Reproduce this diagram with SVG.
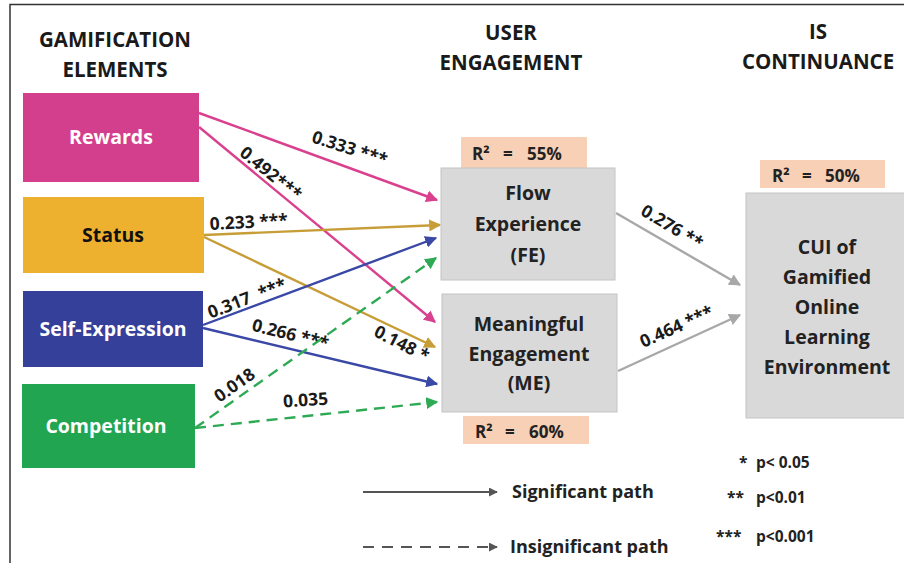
<svg xmlns="http://www.w3.org/2000/svg" width="904" height="563" viewBox="0 0 904 563">
<style>
.hdr{font-family:"Open Sans","Liberation Sans",sans-serif;font-weight:700;font-size:20.5px;fill:#1a1a1a;text-anchor:middle}
.src{font-family:"Open Sans","Liberation Sans",sans-serif;font-weight:700;font-size:19.5px;text-anchor:middle}
.mid{font-family:"Open Sans","Liberation Sans",sans-serif;font-weight:700;font-size:19.5px;fill:#222;text-anchor:middle}
.r2{font-family:"Open Sans","Liberation Sans",sans-serif;font-weight:700;font-size:17px;fill:#222}
.lbl{font-family:"Open Sans","Liberation Sans",sans-serif;font-weight:700;font-size:17.5px;fill:#1a1a1a;text-anchor:middle}
.leg{font-family:"Open Sans","Liberation Sans",sans-serif;font-weight:700;font-size:18px;fill:#222}
.p{font-family:"Open Sans","Liberation Sans",sans-serif;font-weight:700;font-size:15.5px;fill:#222}
.gbox{fill:#d9d9d9;stroke:#c4c4c4;stroke-width:1}
.peach{fill:#f7d0b6}
.c{fill:none;stroke-width:2.4}
</style>
<defs>
<marker id="mp" viewBox="0 0 10 10" refX="9" refY="5" markerWidth="5" markerHeight="5" orient="auto" markerUnits="strokeWidth"><path d="M0,0 L10,5 L0,10 z" fill="#d9418f"/></marker>
<marker id="my" viewBox="0 0 10 10" refX="9" refY="5" markerWidth="5" markerHeight="5" orient="auto" markerUnits="strokeWidth"><path d="M0,0 L10,5 L0,10 z" fill="#c79d38"/></marker>
<marker id="mb" viewBox="0 0 10 10" refX="9" refY="5" markerWidth="5" markerHeight="5" orient="auto" markerUnits="strokeWidth"><path d="M0,0 L10,5 L0,10 z" fill="#3a48a6"/></marker>
<marker id="mg" viewBox="0 0 10 10" refX="9" refY="5" markerWidth="5" markerHeight="5" orient="auto" markerUnits="strokeWidth"><path d="M0,0 L10,5 L0,10 z" fill="#2eaa55"/></marker>
<marker id="ma" viewBox="0 0 10 10" refX="9" refY="5" markerWidth="5" markerHeight="5" orient="auto" markerUnits="strokeWidth"><path d="M0,0 L10,5 L0,10 z" fill="#a8a8a8"/></marker>
<marker id="md" viewBox="0 0 10 10" refX="9" refY="5" markerWidth="4.5" markerHeight="4.5" orient="auto" markerUnits="strokeWidth"><path d="M0,0 L10,5 L0,10 z" fill="#555"/></marker>
</defs>
<rect width="904" height="563" fill="#ffffff"/>
<path d="M10,563 L10,4.5 L904,4.5" fill="none" stroke="#333" stroke-width="1.5"/>

<g id="headers">
<text class="hdr" x="115" y="47">GAMIFICATION</text>
<text class="hdr" x="115" y="77">ELEMENTS</text>
<text class="hdr" x="511" y="40">USER</text>
<text class="hdr" x="511" y="70">ENGAGEMENT</text>
<text class="hdr" x="818" y="39">IS</text>
<text class="hdr" x="818" y="69">CONTINUANCE</text>
</g>

<g id="connectors">
<line class="c" x1="199" y1="113" x2="437" y2="200" stroke="#d9418f" marker-end="url(#mp)"/>
<line class="c" x1="199" y1="127" x2="435" y2="322" stroke="#d9418f" marker-end="url(#mp)"/>
<line class="c" x1="204" y1="235" x2="440" y2="225" stroke="#c79d38" marker-end="url(#my)"/>
<line class="c" x1="204" y1="237" x2="435" y2="347" stroke="#c79d38" marker-end="url(#my)"/>
<line class="c" x1="203" y1="325" x2="436" y2="238" stroke="#3a48a6" marker-end="url(#mb)"/>
<line class="c" x1="203" y1="328" x2="437" y2="384" stroke="#3a48a6" marker-end="url(#mb)"/>
<line class="c" x1="195" y1="428" x2="436" y2="258" stroke="#2eaa55" stroke-dasharray="11,7" marker-end="url(#mg)"/>
<line class="c" x1="195" y1="428" x2="437" y2="402" stroke="#2eaa55" stroke-dasharray="11,7" marker-end="url(#mg)"/>
<line class="c" x1="616" y1="213" x2="740" y2="285" stroke="#a8a8a8" marker-end="url(#ma)"/>
<line class="c" x1="618" y1="371" x2="740" y2="315" stroke="#a8a8a8" marker-end="url(#ma)"/>
</g>

<g id="edge-labels">
<text class="lbl" transform="translate(348,154) rotate(18)">0.333 ***</text>
<text class="lbl" transform="translate(267,178) rotate(39)">0.492***</text>
<text class="lbl" transform="translate(249,228) rotate(-3)">0.233 ***</text>
<text class="lbl" transform="translate(249,304) rotate(-21)">0.317 &#160;***</text>
<text class="lbl" transform="translate(289,340) rotate(14)">0.266 ***</text>
<text class="lbl" transform="translate(399,349) rotate(27)">0.148 *</text>
<text class="lbl" transform="translate(238,390) rotate(-35)">0.018</text>
<text class="lbl" transform="translate(306,406) rotate(-4)">0.035</text>
<text class="lbl" transform="translate(669,232) rotate(31)">0.276 **</text>
<text class="lbl" transform="translate(679,332) rotate(-24)">0.464 ***</text>
</g>

<g id="rewards">
<rect x="23" y="93" width="176" height="89" fill="#d43f8d"/>
<text class="src" x="111" y="144" fill="#ffffff">Rewards</text>
</g>
<g id="status">
<rect x="23" y="197" width="181" height="76" fill="#edb12f"/>
<text class="src" x="113" y="242" fill="#111">Status</text>
</g>
<g id="self-expression">
<rect x="23" y="291" width="180" height="76" fill="#35409a"/>
<text class="src" x="113" y="336" fill="#ffffff">Self-Expression</text>
</g>
<g id="competition">
<rect x="22" y="384" width="173" height="84" fill="#21a550"/>
<text class="src" x="106" y="433" fill="#ffffff">Competition</text>
</g>

<g id="flow-experience">
<rect class="peach" x="461" y="137" width="126" height="31"/>
<text class="r2" y="160"><tspan x="472">R²</tspan><tspan x="503">=</tspan><tspan x="527">55%</tspan></text>
<rect class="gbox" x="441" y="168" width="174" height="112"/>
<text class="mid" x="528" y="200">Flow</text>
<text class="mid" x="528" y="231">Experience</text>
<text class="mid" x="528" y="262">(FE)</text>
</g>

<g id="meaningful-engagement">
<rect class="gbox" x="442" y="294" width="175" height="118"/>
<text class="mid" x="529" y="331">Meaningful</text>
<text class="mid" x="529" y="361">Engagement</text>
<text class="mid" x="529" y="390">(ME)</text>
<rect class="peach" x="463" y="416" width="126" height="28"/>
<text class="r2" y="438"><tspan x="475">R²</tspan><tspan x="505">=</tspan><tspan x="529">60%</tspan></text>
</g>

<g id="cui">
<rect class="peach" x="760" y="160" width="125" height="28"/>
<text class="r2" y="182"><tspan x="772">R²</tspan><tspan x="802">=</tspan><tspan x="825">50%</tspan></text>
<rect class="gbox" x="746" y="193" width="170" height="225"/>
<text class="mid" x="827" y="254">CUI of</text>
<text class="mid" x="827" y="284">Gamified</text>
<text class="mid" x="827" y="314">Online</text>
<text class="mid" x="827" y="344">Learning</text>
<text class="mid" x="827" y="374">Environment</text>
</g>

<g id="legend">
<line x1="363" y1="492" x2="497" y2="492" stroke="#555" stroke-width="2" marker-end="url(#md)"/>
<text class="leg" x="512" y="498">Significant path</text>
<line x1="363" y1="547" x2="497" y2="547" stroke="#555" stroke-width="2" stroke-dasharray="11,8" marker-end="url(#md)"/>
<text class="leg" x="510" y="553">Insignificant path</text>
<text class="p" x="739" y="468">*</text>
<text class="p" x="756" y="468">p&lt; 0.05</text>
<text class="p" x="727" y="503">**</text>
<text class="p" x="756" y="503">p&lt;0.01</text>
<text class="p" x="716" y="542">***</text>
<text class="p" x="756" y="542">p&lt;0.001</text>
</g>
</svg>
